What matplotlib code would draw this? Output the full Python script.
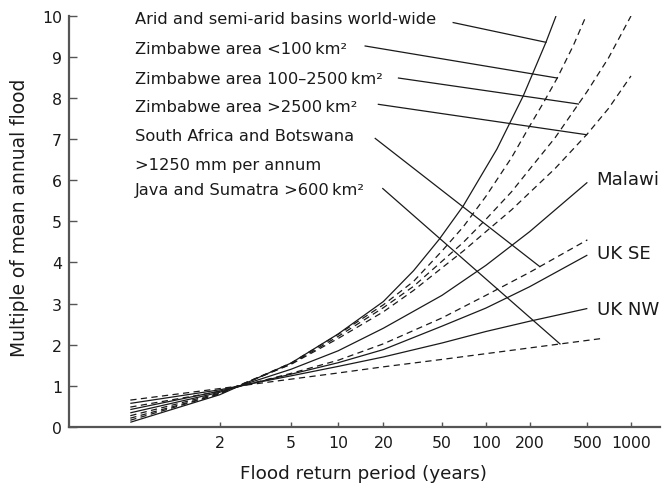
import numpy as np
import matplotlib
matplotlib.use("Agg")
import matplotlib.pyplot as plt

plt.rcParams["font.family"] = ["DejaVu Sans"]


def gumbel(T):
    """Gumbel reduced variate for a return period T (years)."""
    T = np.asarray(T, dtype=float)
    return -np.log(-np.log(1.0 - 1.0 / T))


# Axis ticks
tick_periods = [2, 5, 10, 20, 50, 100, 200, 500, 1000]
y_ticks = [0, 1, 2, 3, 4, 5, 6, 7, 8, 9, 10]

# Regional growth curves: return period (years) -> multiple of mean annual flood
arid_T = [1.06, 2, 5, 10, 20, 32, 48, 70, 119, 181, 259, 304]
arid_q = [0.11, 0.78, 1.55, 2.26, 3.05, 3.80, 4.57, 5.38, 6.76, 8.06, 9.36, 10.0]

zim_small_T = [1.06, 2, 5, 10, 20, 32, 50, 70, 100, 150, 200, 250, 310, 400, 490]
zim_small_q = [0.16, 0.80, 1.55, 2.25, 2.97, 3.54, 4.28, 4.87, 5.61, 6.55, 7.32,
               7.90, 8.49, 9.28, 10.0]

zim_mid_T = [1.06, 2, 5, 10, 20, 32, 50, 70, 100, 150, 200, 300, 500, 700, 1000]
zim_mid_q = [0.21, 0.80, 1.53, 2.20, 2.90, 3.42, 4.03, 4.49, 5.05, 5.72, 6.27,
             7.04, 8.17, 8.98, 10.0]

zim_large_T = [1.06, 2, 5, 10, 20, 32, 50, 70, 100, 150, 200, 300, 500, 700, 1000]
zim_large_q = [0.27, 0.82, 1.52, 2.15, 2.80, 3.32, 3.87, 4.28, 4.75, 5.28, 5.70,
               6.29, 7.13, 7.75, 8.54]

sa_T = [1.06, 2, 5, 10, 20, 50, 100, 200, 500]
sa_q = [0.48, 0.86, 1.30, 1.62, 2.02, 2.65, 3.20, 3.76, 4.55]

java_T = [1.06, 2, 5, 10, 20, 50, 100, 200, 630]
java_q = [0.65, 0.93, 1.16, 1.31, 1.46, 1.64, 1.78, 1.92, 2.15]

malawi_T = [1.06, 2, 5, 10, 20, 50, 100, 200, 500]
malawi_q = [0.34, 0.84, 1.40, 1.85, 2.40, 3.20, 3.93, 4.75, 5.95]

uk_se_T = [1.06, 2, 5, 10, 20, 50, 100, 200, 500]
uk_se_q = [0.42, 0.87, 1.28, 1.56, 1.88, 2.45, 2.89, 3.41, 4.18]

uk_nw_T = [1.06, 2, 5, 10, 20, 50, 100, 200, 500]
uk_nw_q = [0.57, 0.90, 1.24, 1.47, 1.70, 2.04, 2.32, 2.57, 2.88]

INK = "#1a1a1a"
AXIS = "#555555"
DASH = (0, (5, 3.5))

curves = [
    (arid_T, arid_q, "-"),
    (zim_small_T, zim_small_q, DASH),
    (zim_mid_T, zim_mid_q, DASH),
    (zim_large_T, zim_large_q, DASH),
    (sa_T, sa_q, DASH),
    (java_T, java_q, DASH),
    (malawi_T, malawi_q, "-"),
    (uk_se_T, uk_se_q, "-"),
    (uk_nw_T, uk_nw_q, "-"),
]

fig = plt.figure(figsize=(6.67, 4.89), dpi=100)
ax = fig.add_axes([69 / 667, (489 - 427.8) / 489, (660 - 69) / 667, (427.8 - 17) / 489])

for T, q, ls in curves:
    ax.plot(gumbel(T), q, color=INK, lw=0.9, linestyle=ls, solid_capstyle="butt",
            solid_joinstyle="round")


def on_curve(T_pt, T, q):
    x = float(gumbel(T_pt))
    return x, float(np.interp(x, gumbel(T), q))


# Labels on the left with leader lines to their curves
left_labels = [
    ("Arid and semi-arid basins world-wide", 9.82, (4.08, 9.84), 259, arid_T, arid_q),
    ("Zimbabwe area <100\u2009km\u00b2", 9.11, (2.68, 9.27), 310, zim_small_T, zim_small_q),
    ("Zimbabwe area 100\u20132500\u2009km\u00b2", 8.38, (3.21, 8.49), 434, zim_mid_T, zim_mid_q),
    ("Zimbabwe area >2500\u2009km\u00b2", 7.68, (2.89, 7.85), 494, zim_large_T, zim_large_q),
    ("South Africa and Botswana", 6.98, (2.84, 7.02), 235, sa_T, sa_q),
    ("Java and Sumatra >600\u2009km\u00b2", 5.66, (2.96, 5.80), 324, java_T, java_q),
]
for text, y_base, start, T_end, T, q in left_labels:
    ax.text(-0.98, y_base, text, fontsize=11.7, ha="left", va="baseline",
            color=INK, clip_on=False)
    end = on_curve(T_end, T, q)
    ax.plot([start[0], end[0]], [start[1], end[1]], color=INK, lw=0.9,
            clip_on=False)

ax.text(-0.98, 6.27, ">1250 mm per annum", fontsize=11.7, ha="left",
        va="baseline", color=INK)

# Labels at the right-hand ends of curves
for text, y_base in [("Malawi", 5.91), ("UK SE", 4.10), ("UK NW", 2.74)]:
    ax.text(6.36, y_base, text, fontsize=13.1, ha="left", va="baseline",
            color=INK, clip_on=False)

ax.set_xlim(-2.030, 7.369)
ax.set_ylim(0, 10)
ax.set_xticks(gumbel(tick_periods))
ax.set_xticklabels([str(t) for t in tick_periods])
ax.set_yticks(y_ticks)

for side in ("top", "right"):
    ax.spines[side].set_visible(False)
for side in ("left", "bottom"):
    ax.spines[side].set_color(AXIS)
    ax.spines[side].set_linewidth(1.6)

ax.tick_params(axis="x", direction="in", length=3.6, width=1.0, color=AXIS,
               labelsize=11.3, pad=6, labelcolor=INK)
ax.tick_params(axis="y", direction="in", length=5.5, width=1.0, color=AXIS,
               labelsize=11.3, pad=5, labelcolor=INK)

fig.text(363.3 / 667, 1 - 474 / 489, "Flood return period (years)",
         fontsize=13.2, ha="center", va="center", color=INK)
fig.text(20 / 667, 1 - 218.3 / 489, "Multiple of mean annual flood",
         fontsize=13.4, ha="center", va="center", rotation=90, color=INK)

fig.savefig("out.png", dpi=100)
